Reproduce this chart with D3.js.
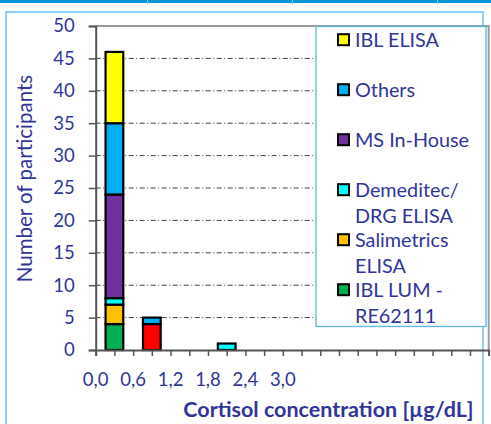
<!DOCTYPE html>
<html><head><meta charset="utf-8">
<script src="https://cdn.jsdelivr.net/npm/d3@7"></script>
<style>body{margin:0;background:#fff}svg{display:block}</style>
</head><body>
<svg id="c" width="491" height="424"></svg>
<script>
// ---- data ----
const binCenters = [0.3, 0.9, 2.1];
const seriesNames = ["Unlisted", "IBL LUM - RE62111", "Salimetrics ELISA", "Demeditec/ DRG ELISA", "MS In-House", "Others", "IBL ELISA"];
const seriesColors = ["#ff0000", "#00b050", "#ffc000", "#00ffff", "#7030a0", "#00b0f0", "#ffff00"];
const unlisted   = [0, 4, 0];
const iblLum     = [4, 0, 0];
const salimetrics= [3, 0, 0];
const demeditec  = [1, 0, 1];
const msInHouse  = [16, 0, 0];
const others     = [11, 1, 0];
const iblElisa   = [11, 0, 0];
const yTicks = [0,5,10,15,20,25,30,35,40,45,50];
const xLabelValues = [0, 0.6, 1.2, 1.8, 2.4, 3.0];
const xLabels = ["0,0","0,6","1,2","1,8","2,4","3,0"];
const legendItems = [
  {lines:["IBL ELISA"], s:6},
  {lines:["Others"], s:5},
  {lines:["MS In-House"], s:4},
  {lines:["Demeditec/","DRG ELISA"], s:3},
  {lines:["Salimetrics","ELISA"], s:2},
  {lines:["IBL LUM -","RE62111"], s:1}
];

const seriesValues = [unlisted, iblLum, salimetrics, demeditec, msInHouse, others, iblElisa];
const rows = binCenters.map((c,i)=>{ const r={c}; seriesNames.forEach((n,j)=>r[n]=seriesValues[j][i]); return r; });
const stack = d3.stack().keys(seriesNames)(rows);

const svg = d3.select("#c");
const txt = "#31359a";
const font = "Lato, 'Open Sans', sans-serif";

// top strip
svg.append("rect").attr("x",0).attr("y",0).attr("width",491).attr("height",3).attr("fill","#0a97d9");
[147,292,437].forEach(x=>svg.append("rect").attr("x",x).attr("y",0).attr("width",1).attr("height",4).attr("fill","#7cc6ea"));
// outer frame
svg.append("rect").attr("x",6).attr("y",12).attr("width",477).attr("height",430)
  .attr("fill","none").attr("stroke","#8fd0f0").attr("stroke-width",2);

const x = d3.scaleLinear().domain([0,6.3]).range([95.7,488.7]);
const y = d3.scaleLinear().domain([0,50]).range([350,26]);

// gridlines
svg.append("g").selectAll("line").data(yTicks.filter(t=>t>0&&t<50)).join("line")
  .attr("x1",x(0)).attr("x2",x(6.3)).attr("y1",d=>y(d)).attr("y2",d=>y(d))
  .attr("stroke","#404040").attr("stroke-width",1).attr("stroke-dasharray","5,2.5,1,2.5");

// plot border top/right
svg.append("path").attr("d",`M${x(0)},${y(50)}H${x(6.3)}V${y(0)}`).attr("fill","none").attr("stroke","#9a9a9a").attr("stroke-width",2);

// bars
const bw = x(0.3)-x(0);
svg.append("g").selectAll("g").data(stack).join("g")
  .attr("fill",(d,i)=>seriesColors[i])
  .selectAll("rect").data(d=>d.filter(e=>e[1]>e[0])).join("rect")
  .attr("x",d=>x(d.data.c)-bw/2+0.5).attr("width",bw-1)
  .attr("y",d=>y(d[1])).attr("height",d=>y(d[0])-y(d[1]))
  .attr("stroke","#000").attr("stroke-width",2.2);

// y axis
const ya = svg.append("g").attr("transform",`translate(${x(0)},0)`)
  .call(d3.axisLeft(y).tickValues(yTicks).tickSize(7).tickPadding(14).tickFormat(d3.format("d")));
ya.select(".domain").attr("stroke","#555").attr("stroke-width",2);
ya.selectAll(".tick line").attr("stroke","#555").attr("stroke-width",1.5);
ya.selectAll("text").attr("fill",txt).style("font-family",font).style("font-size","18.5px");

// x axis
const xa = svg.append("g").attr("transform",`translate(0,${y(0)})`)
  .call(d3.axisBottom(x).tickValues(d3.range(0,22).map(i=>i*0.3)).tickSize(6).tickFormat(""));
xa.select(".domain").attr("stroke","#555").attr("stroke-width",2);
xa.selectAll(".tick line").attr("stroke","#555").attr("stroke-width",1.5);
svg.append("g").selectAll("text").data(xLabelValues).join("text")
  .attr("x",d=>x(d)).attr("y",380).attr("dy","0.35em").attr("text-anchor","middle")
  .attr("fill",txt).style("font-family",font).style("font-size","18.5px")
  .text((d,i)=>xLabels[i]);

// axis titles
svg.append("text").attr("transform","translate(32,178.5) rotate(-90)").attr("text-anchor","middle")
  .attr("fill",txt).style("font-family",font).style("font-size","20.5px").text("Number of participants");
svg.append("text").attr("x",328.5).attr("y",409).attr("dy","0.35em").attr("text-anchor","middle")
  .attr("fill",txt).style("font-family",font).style("font-size","21.5px").style("font-weight","bold")
  .text("Cortisol concentration [µg/dL]");

// legend
const lg = svg.append("g");
lg.append("rect").attr("x",316).attr("y",26.5).attr("width",170).attr("height",300)
  .attr("fill","#fff").attr("stroke","#5ab4e5").attr("stroke-width",1.3);
legendItems.forEach((it,i)=>{
  const cy = 39.7 + i*50;
  lg.append("rect").attr("x",338).attr("y",cy-5.5).attr("width",11).attr("height",11)
    .attr("fill",seriesColors[it.s]).attr("stroke","#000").attr("stroke-width",2);
  it.lines.forEach((l,k)=>lg.append("text").attr("x",355).attr("y",cy+k*26).attr("dy","0.35em")
    .attr("fill",txt).style("font-family",font).style("font-size","19.8px").text(l));
});
</script>
</body></html>
